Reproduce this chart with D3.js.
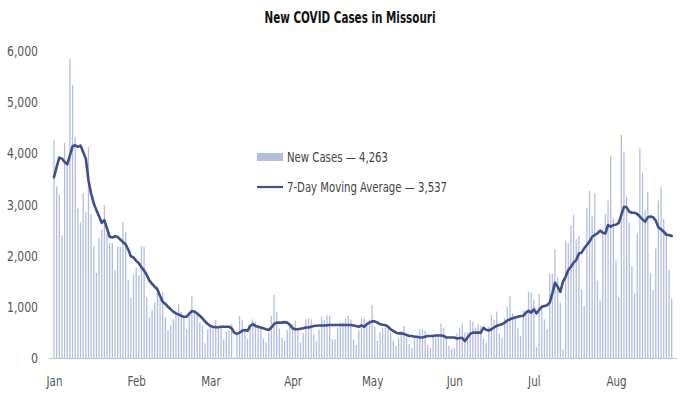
<!DOCTYPE html>
<html>
<head>
<meta charset="utf-8">
<script src="https://cdn.jsdelivr.net/npm/d3@7"></script>
<style>
  html, body { margin: 0; padding: 0; background: #ffffff; }
  svg { display: block; font-family: 'Liberation Sans Narrow', 'DejaVu Sans Condensed', 'Arial Narrow', sans-serif; }
</style>
</head>
<body>
<svg id="chart" width="699" height="399"></svg>
<script>
// ---- data ----
const title = "New COVID Cases in Missouri";
const startDate = "2021-01-01";
const monthLabels = ["Jan", "Feb", "Mar", "Apr", "May", "Jun", "Jul", "Aug"];
const yTicks = [0, 1000, 2000, 3000, 4000, 5000, 6000];
const legendCases = "New Cases \u2014 4,263";
const legendAvg = "7-Day Moving Average \u2014 3,537";

const newCases = [
  4263, 3362, 3205, 2405, 4206, 3800, 5850, 5330, 4325, 2925, 2650, 3230, 2855, 4130, 2815, 2190, 1670, 2355,
  2515, 2990, 2440, 2255, 2255, 1725, 2190, 2180, 2660, 2465, 1540, 1190, 1640, 1770, 1625, 2190, 2180, 1190,
  800, 945, 1095, 1415, 1155, 1285, 800, 555, 655, 765, 895, 1065, 915, 830, 575, 915, 1220, 880, 870, 700,
  635, 295, 570, 655, 635, 750, 590, 610, 375, 525,
  555, 670, 30, 490, 835, 740, 540, 390, 605, 765, 720, 655, 605, 390, 310, 505, 835, 1240, 905, 590, 410,
  345, 555, 700, 670, 740, 540, 310, 490, 765, 785,
  765, 480, 330, 570, 815, 750, 840, 840, 375, 375, 605, 700, 700, 785, 830, 765, 375, 265, 555, 785, 785,
  670, 760, 1045, 620, 345, 520, 590, 605, 570,
  505, 345, 245, 410, 540, 635, 410, 285, 200, 390, 425, 570, 570, 540, 265, 200, 440, 410, 480, 685, 605,
  410, 245, 180, 200, 490, 605, 685, 505, 505, 740,
  720, 605, 670, 635, 390, 310, 620, 850, 750, 915, 490, 410, 785, 1010, 1220, 880, 785, 605, 440, 930,
  930, 1305, 1285, 1155, 230, 1260, 1000, 765, 570, 1650, 1660, 2130, 1585, 1090, 180, 2300, 2245, 2600,
  2800, 2325, 2390, 1350, 1025, 2930, 3270, 2780, 3225, 1520, 1130, 2520, 2820, 3080, 3950, 2735, 1920, 1195,
  4360, 4035, 3155, 2650, 1795, 1275, 2440, 4100, 3625, 2900, 3255, 1660, 1335, 2145, 3080, 3340, 2735, 2475,
  1725, 1175
];

const movingAvg = [
  3537, 3740, 3920, 3900, 3835, 3790, 3965, 4140, 4160, 4130, 4155, 4030, 3900, 3480, 3220, 3025, 2895, 2775,
  2645, 2700, 2535, 2375, 2360, 2385, 2375, 2320, 2275, 2230, 2125, 1995, 1970, 1905, 1860, 1780, 1715, 1630,
  1520, 1455, 1400, 1350, 1220, 1110, 1065, 1010, 960, 915, 880, 860, 830, 815, 815, 870, 925, 915, 880, 835,
  785, 720, 675, 635, 620, 610, 610, 620, 620, 620,
  620, 590, 505, 480, 505, 540, 555, 540, 635, 670, 635, 620, 605, 590, 570, 555, 605, 670, 700, 700, 700,
  710, 700, 655, 590, 570, 570, 580, 590, 605, 605,
  620, 635, 640, 645, 645, 645, 650, 655, 655, 655, 655, 655, 655, 655, 655, 655, 645, 635, 620, 645, 620,
  670, 700, 725, 725, 700, 670, 660, 650, 620,
  570, 540, 505, 490, 490, 480, 460, 440, 440, 425, 425, 410, 410, 425, 440, 440, 440, 450, 450, 450, 440,
  410, 410, 410, 410, 390, 400, 400, 340, 410, 480,
  505, 505, 505, 505, 600, 560, 545, 570, 605, 635, 655, 670, 700, 740, 765, 785, 800, 815, 830, 830,
  895, 930, 895, 960, 880, 950, 1010, 1025, 1040, 1090, 1270, 1480, 1400, 1300, 1500, 1595, 1725, 1790,
  1870, 1920, 2050, 2065, 2150, 2215, 2280, 2375, 2410, 2440, 2495, 2455, 2440, 2605, 2570, 2605, 2610, 2640,
  2800, 2960, 2950, 2865, 2845, 2845, 2820, 2770, 2715, 2670, 2755, 2770, 2755, 2690, 2560, 2520, 2475, 2410,
  2410, 2390
];

// ---- chart ----
const svg = d3.select("#chart");

const parse = d3.timeParse("%Y-%m-%d");
const start = parse(startDate);
const dates = newCases.map((_, i) => d3.timeDay.offset(start, i));
const rows = dates.map((d, i) => ({ date: d, cases: newCases[i], avg: movingAvg[i] }));

const x = d3.scaleTime()
  .domain([start, d3.timeMonth.offset(start, 7)])
  .range([54, 616]);
const y = d3.scaleLinear().domain([0, 6000]).range([358.5, 51]);

// title
svg.append("text")
  .attr("x", 350).attr("y", 23)
  .attr("text-anchor", "middle")
  .attr("font-size", 15).attr("font-weight", "bold").attr("fill", "#111")
  .attr("textLength", 171).attr("lengthAdjust", "spacingAndGlyphs")
  .text(title);

// baseline
svg.append("line")
  .attr("x1", 49).attr("x2", 677)
  .attr("y1", y(0)).attr("y2", y(0))
  .attr("stroke", "#c8c8c8").attr("stroke-width", 1);

// y axis labels
const yAxis = d3.axisLeft(y).tickValues(yTicks).tickFormat(d3.format(",")).tickSize(0).tickPadding(0);
const gy = svg.append("g").attr("transform", "translate(38,0)").call(yAxis);
gy.select(".domain").remove();
gy.attr("font-family", null);
gy.selectAll("text").attr("font-size", 14).attr("fill", "#555")
  .each(function(d) {
    const s = d3.format(",")(d);
    d3.select(this).attr("textLength", s.length === 1 ? 7 : 31).attr("lengthAdjust", "spacingAndGlyphs");
  });

// x axis labels
const monthTicks = d3.timeMonth.range(start, d3.timeMonth.offset(start, 8));
const xAxis = d3.axisBottom(x).tickValues(monthTicks).tickFormat((d, i) => monthLabels[i]).tickSize(0).tickPadding(0);
const gx = svg.append("g").attr("transform", "translate(0,376)").call(xAxis);
gx.select(".domain").remove();
gx.attr("font-family", null);
gx.selectAll("text").attr("font-size", 14).attr("fill", "#555").attr("dy", "0.71em")
  .attr("transform", "scale(1,1)")
  .each(function() {
    const t = d3.select(this);
    const len = this.getComputedTextLength();
    t.attr("textLength", len * 0.82).attr("lengthAdjust", "spacingAndGlyphs");
  });

// bars
const barW = 1.3;
svg.append("g").selectAll("rect")
  .data(rows).join("rect")
  .attr("x", d => x(d.date) - barW / 2)
  .attr("y", d => y(d.cases))
  .attr("width", barW)
  .attr("height", d => y(0) - y(d.cases))
  .attr("fill", "#b3bde0");

// moving average line
const line = d3.line().x(d => x(d.date)).y(d => y(d.avg));
svg.append("path")
  .datum(rows)
  .attr("d", line)
  .attr("fill", "none")
  .attr("stroke", "#3d4f8d")
  .attr("stroke-width", 2.6)
  .attr("stroke-linejoin", "round")
  .attr("stroke-linecap", "round");

// legend
const lg = svg.append("g");
lg.append("rect").attr("x", 257).attr("y", 153).attr("width", 26).attr("height", 8).attr("fill", "#b3bde0");
lg.append("text").attr("x", 287).attr("y", 162).attr("font-size", 14).attr("fill", "#444")
  .attr("textLength", 101).attr("lengthAdjust", "spacingAndGlyphs").text(legendCases);
lg.append("line").attr("x1", 257).attr("x2", 283).attr("y1", 187).attr("y2", 187)
  .attr("stroke", "#3d4f8d").attr("stroke-width", 2.2);
lg.append("text").attr("x", 287).attr("y", 192).attr("font-size", 14).attr("fill", "#444")
  .attr("textLength", 160).attr("lengthAdjust", "spacingAndGlyphs").text(legendAvg);
</script>
</body>
</html>
